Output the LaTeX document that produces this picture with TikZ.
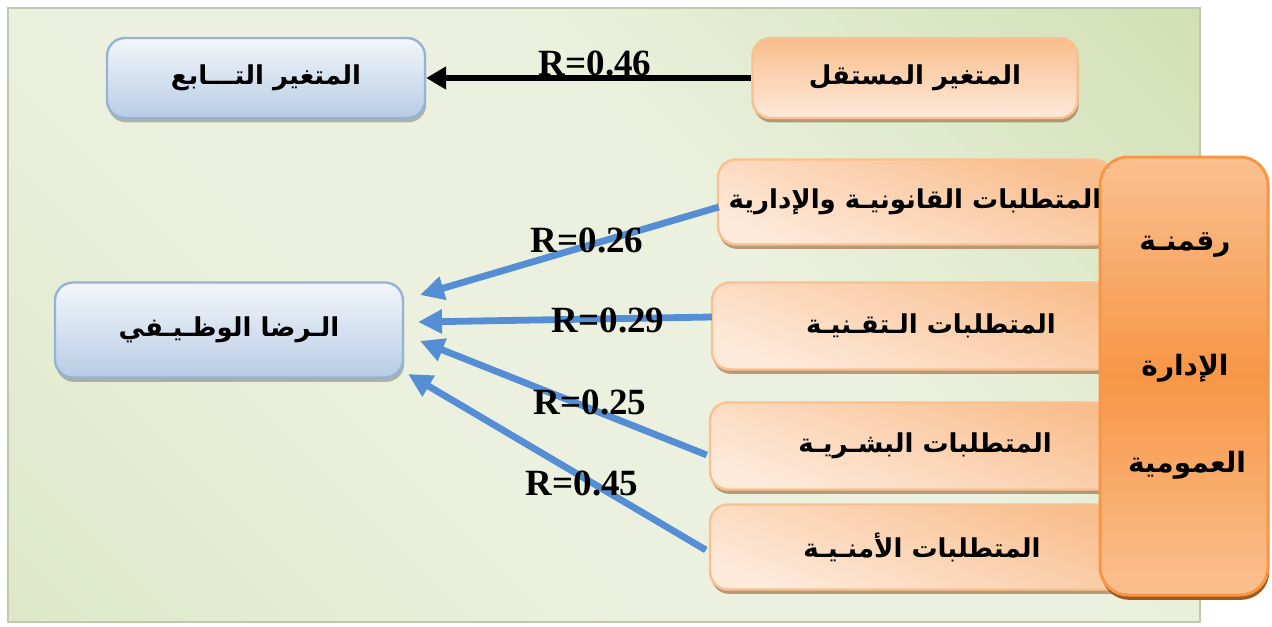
\documentclass[tikz,border=0pt]{standalone}
\usepackage{fontspec}
\setmainfont{Liberation Serif}
\newfontfamily\arabicfont[Script=Arabic]{DejaVu Sans}
\TeXXeTstate=1
\usetikzlibrary{arrows.meta,shadows}

\definecolor{bgA}{HTML}{C4D79E}
\definecolor{bgB}{HTML}{EBF1DE}
\definecolor{bgC}{HTML}{D6E3BB}
\definecolor{bgE}{HTML}{BFC9B0}
\definecolor{blueT}{HTML}{F3F6FB}
\definecolor{blueB}{HTML}{B8CCE4}
\definecolor{blueE}{HTML}{95B3D7}
\definecolor{orD}{HTML}{F9BD8C}
\definecolor{orL}{HTML}{FDEADB}
\definecolor{orE}{HTML}{FAC090}
\definecolor{orM}{HTML}{F79646}
\definecolor{orBig}{HTML}{FAC08F}
\definecolor{orShadow}{HTML}{A0764F}
\definecolor{bigShadow}{HTML}{984807}
\definecolor{arrowblue}{HTML}{558ED5}

\pgfdeclarehorizontalshading{bgshade}{100bp}{color(0bp)=(bgC); color(40bp)=(bgB); color(58bp)=(bgB); color(100bp)=(bgA)}

\tikzset{
  artext/.style={font=\arabicfont\bfseries\fontsize{13}{15}\selectfont, text=black},
  bigtext/.style={font=\arabicfont\bfseries\fontsize{14}{16}\selectfont, text=black},
  bluebox/.style={artext, draw=blueE, line width=1.2pt, rounded corners=9pt, inner sep=0pt,
    top color=blueT, bottom color=blueB,
    drop shadow={shadow xshift=0.6pt, shadow yshift=-2.2pt, fill=black!60, opacity=0.45}},
  orbox/.style={artext, draw=orE, line width=1.2pt, rounded corners=9pt, inner sep=0pt,
    top color=orD, bottom color=orL, shading angle=-20,
    drop shadow={shadow xshift=0.6pt, shadow yshift=-2.2pt, fill=orShadow, opacity=0.7}},
  bigbox/.style={draw=orM, line width=1.5pt, rounded corners=14pt, inner sep=0pt,
    top color=orBig, bottom color=orBig, middle color=orM,
    drop shadow={shadow xshift=0.6pt, shadow yshift=-2.4pt, fill=bigShadow, opacity=0.9}},
  rlabel/.style={font=\bfseries\fontsize{18.5}{20}\selectfont, inner sep=0pt},
  blackarrow/.style={line width=3.2pt, -{Triangle[length=10pt,width=11pt]}},
  bluearrow/.style={draw=arrowblue, line width=3.4pt, -{Triangle[length=12pt,width=11.5pt]}}
}

\begin{document}
\begin{tikzpicture}[x=0.5pt,y=-0.5pt]
\useasboundingbox (0,0) rectangle (1272,626);

% background panel
\path[shading=bgshade, shading angle=45, draw=bgE, line width=0.8pt] (8,8) rectangle (1200,622);

% boxes
\node[bluebox, minimum width=159pt, minimum height=40pt] (dep) at (266,78) {\beginR المتغير التـــابع\endR};
\node[orbox, minimum width=162.5pt, minimum height=40pt, shading angle=0] (indep) at (915,78) {\beginR المتغير المستقل\endR};
\node[bluebox, minimum width=174pt, minimum height=47.5pt] (sat) at (229,330) {\beginR الـرضا الوظـيـفي\endR};

\node[orbox, minimum width=197pt, minimum height=42.5pt] (r1) at (915,202) {\beginR المتطلبات القانونيـة والإدارية\endR};
\node[orbox, minimum width=219pt, minimum height=43.5pt] (r2) at (931,326) {\beginR المتطلبات الـتقـنيـة\endR};
\node[orbox, minimum width=215pt, minimum height=43.5pt] (r3) at (925,446) {\beginR المتطلبات البشـريـة\endR};
\node[orbox, minimum width=212pt, minimum height=42.5pt] (r4) at (922,547) {\beginR المتطلبات الأمنـيـة\endR};

\node[bigbox, minimum width=84pt, minimum height=219pt] (big) at (1184,376) {};
\node[bigtext] (bigA) at (1185,245) {\beginR رقمنـة\endR};
\node[bigtext] (bigB) at (1185,368) {\beginR الإدارة\endR};
\node[bigtext] (bigC) at (1187,465) {\beginR العمومية\endR};

% arrows
\draw[blackarrow] (indep.west) -- (dep.east);

\coordinate (t1) at (420,295);
\coordinate (t2) at (418,322);
\coordinate (t3) at (420,341);
\coordinate (t4) at (408,374);
\draw[bluearrow] ([shift={(2,5)}]r1.west) -- (t1);
\draw[bluearrow] ([shift={(1,-9)}]r2.west) -- (t2);
\draw[bluearrow] ([shift={(-2,9)}]r3.west) -- (t3);
\draw[bluearrow] ([shift={(-3,3)}]r4.west) -- (t4);

% labels
\node[rlabel] (l0) at (595,63) {R=0.46};
\node[rlabel] (l1) at (587,240) {R=0.26};
\node[rlabel] (l2) at (608,320) {R=0.29};
\node[rlabel] (l3) at (590,402) {R=0.25};
\node[rlabel] (l4) at (582,483) {R=0.45};
\end{tikzpicture}
\end{document}
